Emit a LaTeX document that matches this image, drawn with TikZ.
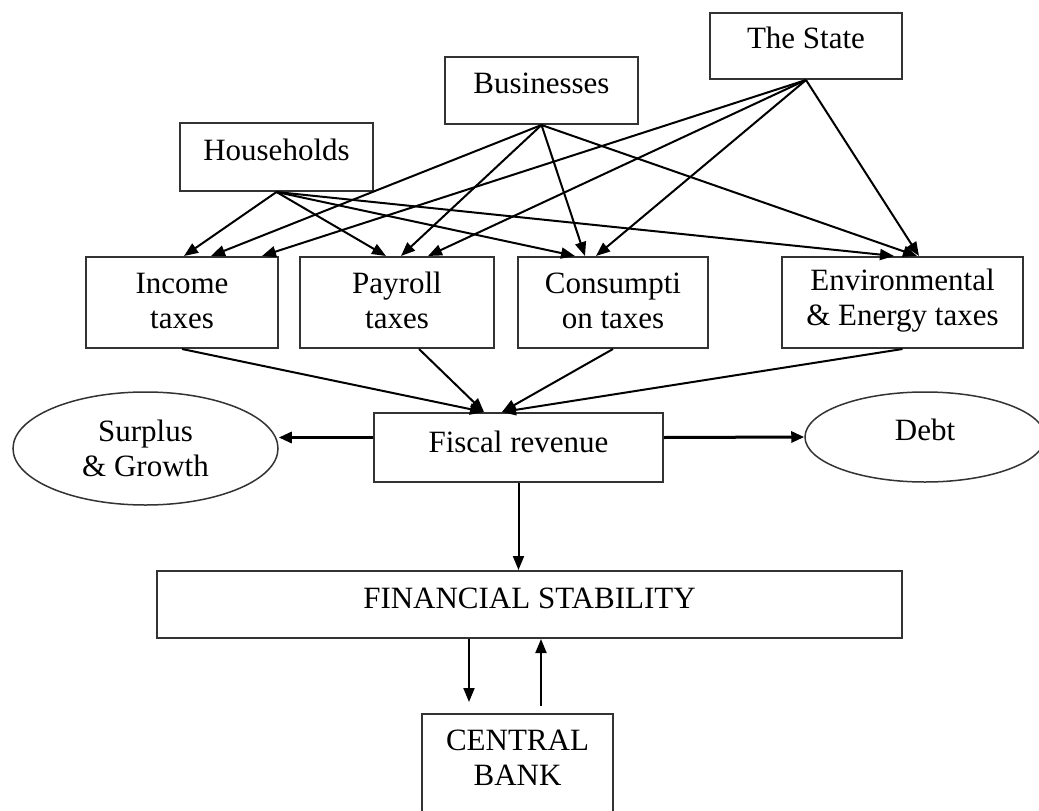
\documentclass[tikz,border=0pt]{standalone}
\usepackage{fontspec}
\setmainfont{Liberation Serif}
\usetikzlibrary{arrows.meta,shapes.geometric}
\tikzset{
  txt/.style={font=\fontsize{31}{35}\selectfont, align=center, inner sep=0pt, text=black},
  box/.style={draw=black!80, line width=2pt, rectangle, inner sep=0pt, fill=white},
  ell/.style={draw=black!80, line width=1.5pt, ellipse, inner sep=0pt, fill=white},
  arr/.style={line width=2pt, -{Triangle[length=14pt,width=11pt]}},
  harr/.style={line width=3pt, -{Triangle[length=13pt,width=11pt]}}
}
\begin{document}
\begin{tikzpicture}[x=1pt,y=-1pt]
\useasboundingbox (0,0) rectangle (1039,811);
\clip (0,0) rectangle (1039,811);
\fill[white] (0,0) rectangle (1039,811);

% top sources
\node[box, minimum width=192pt, minimum height=66pt, label={[txt,yshift=8pt]center:The State}] (state) at (806,46) {};
\node[box, minimum width=193pt, minimum height=67pt, label={[txt,yshift=7pt]center:Businesses}] (bus) at (541.5,90.5) {};
\node[box, minimum width=193pt, minimum height=68pt, label={[txt,yshift=7pt]center:Households}] (hh) at (276.5,157) {};

% taxes
\node[box, minimum width=192pt, minimum height=91pt, label={[txt,yshift=2pt]center:{Income\\taxes}}] (inc) at (182,302.5) {};
\node[box, minimum width=194pt, minimum height=91pt, label={[txt,yshift=2pt]center:{Payroll\\taxes}}] (pay) at (397,302.5) {};
\node[box, minimum width=190pt, minimum height=91pt, label={[txt,yshift=2pt]center:{Consumpti\\on taxes}}] (con) at (613,302.5) {};
\node[box, minimum width=241pt, minimum height=91pt, label={[txt,yshift=2pt]center:{Environmental\\\& Energy taxes}}] (env) at (902.5,302.5) {};

% fiscal level
\node[box, minimum width=289pt, minimum height=69pt, label={[txt,yshift=6pt]center:Fiscal revenue}] (fis) at (518.5,447.5) {};
\node[ell, minimum width=265pt, minimum height=113pt, label={[txt]center:{Surplus\\\& Growth}}] (sur) at (145.5,448.5) {};
\node[ell, minimum width=240pt, minimum height=90pt, label={[txt,yshift=7pt]center:Debt}] (debt) at (925,437) {};

% stability
\node[box, minimum width=745pt, minimum height=67pt, label={[txt,yshift=6pt]center:FINANCIAL STABILITY}] (fs) at (529.5,604.5) {};
\node[box, minimum width=191pt, minimum height=120pt, label={[txt,yshift=16pt]center:{CENTRAL\\BANK}}] (cb) at (517.5,774) {};

% households arrows
\draw[arr] (hh.south) -- ([xshift=99pt]inc.north west);
\draw[arr] (hh.south) -- ([xshift=87pt]pay.north west);
\draw[arr] (hh.south) -- ([xshift=58pt]con.north west);
\draw[arr] (hh.south) -- ([xshift=113pt]env.north west);
% businesses arrows
\draw[arr] (bus.south) -- ([xshift=126pt]inc.north west);
\draw[arr] (bus.south) -- ([xshift=102pt]pay.north west);
\draw[arr] (bus.south) -- ([xshift=68pt]con.north west);
\draw[arr] (bus.south) -- ([xshift=136pt]env.north west);
% state arrows
\draw[arr] (state.south) -- ([xshift=177pt]inc.north west);
\draw[arr] (state.south) -- ([xshift=129pt]pay.north west);
\draw[arr] (state.south) -- ([xshift=79pt]con.north west);
\draw[arr] (state.south) -- ([xshift=138pt]env.north west);

% taxes to fiscal revenue
\draw[arr] (inc.south) -- ([xshift=111pt]fis.north west);
\draw[arr] ([xshift=120pt]pay.south west) -- ([xshift=111pt]fis.north west);
\draw[arr] (con.south) -- ([xshift=129pt]fis.north west);
\draw[arr] (env.south) -- ([xshift=129pt]fis.north west);

% fiscal revenue outputs
\draw[harr] ([yshift=10pt]fis.west) -- ([yshift=11pt]sur.east);
\draw[harr] ([yshift=10pt]fis.east) -- (debt.west);
\draw[arr] (fis.south) -- (fis.south |- fs.north);

% stability <-> central bank
\draw[arr] ([xshift=313pt]fs.south west) -- ([xshift=48pt,yshift=11pt]cb.north west);
\draw[arr] ([xshift=120pt,yshift=7pt]cb.north west) -- ([xshift=385pt]fs.south west);
\end{tikzpicture}
\end{document}
